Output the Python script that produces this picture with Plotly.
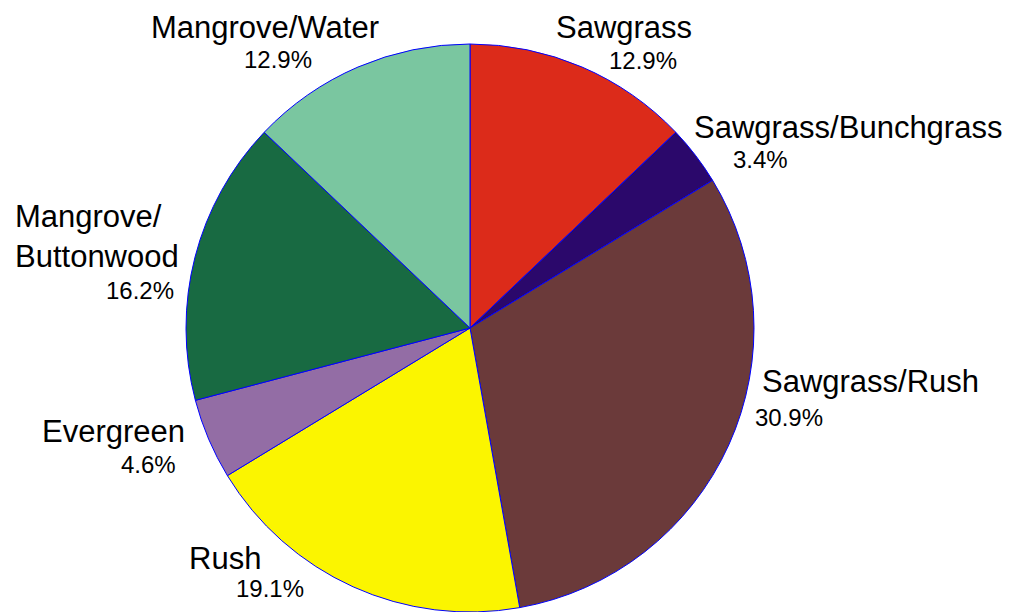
import plotly.graph_objects as go

W, H = 1018, 612

categories = ["Sawgrass", "Sawgrass/Bunchgrass", "Sawgrass/Rush", "Rush",
              "Evergreen", "Mangrove/Buttonwood", "Mangrove/Water"]
values = [12.9, 3.4, 30.9, 19.1, 4.6, 16.2, 12.9]
name_labels = ["Sawgrass", "Sawgrass/Bunchgrass", "Sawgrass/Rush", "Rush",
               "Evergreen", "Mangrove/<br>Buttonwood", "Mangrove/Water"]
colors = ["#DC2B1A", "#2B086B", "#6B3A3A", "#FBF500",
          "#936DA5", "#186A42", "#7AC6A0"]

# label placement (pixels): name left, name center y, pct left, pct center y
name_pos = [(554, 28), (692, 127), (760, 381), (187, 558),
            (40, 431), (13, 237), (149, 28)]
pct_pos = [(607, 61), (731, 160), (753, 417), (234, 588),
           (119, 464), (104, 290), (242, 60)]

fig = go.Figure(go.Pie(
    labels=categories, values=values, sort=False, direction="clockwise",
    rotation=0, textinfo="none", hoverinfo="label+percent",
    marker=dict(colors=colors, line=dict(color="#0000FF", width=1)),
    domain=dict(x=[186 / W, 754 / W], y=[0, (H - 44) / H]),
    showlegend=False,
))

ann = []
for lab, (nx, ny), (px, py), v in zip(name_labels, name_pos, pct_pos, values):
    ann.append(dict(text=lab, x=nx / W, y=1 - ny / H, xref="paper", yref="paper",
                    xanchor="left", yanchor="middle", showarrow=False, align="left",
                    font=dict(family="Liberation Sans, Arial", size=31, color="#000")))
    ann.append(dict(text=f"{v:.1f}%", x=px / W, y=1 - py / H, xref="paper", yref="paper",
                    xanchor="left", yanchor="middle", showarrow=False,
                    font=dict(family="Liberation Sans, Arial", size=24, color="#000")))

fig.update_layout(width=W, height=H, margin=dict(l=0, r=0, t=0, b=0),
                  paper_bgcolor="white", plot_bgcolor="white", annotations=ann)

fig.write_html("out.html")
